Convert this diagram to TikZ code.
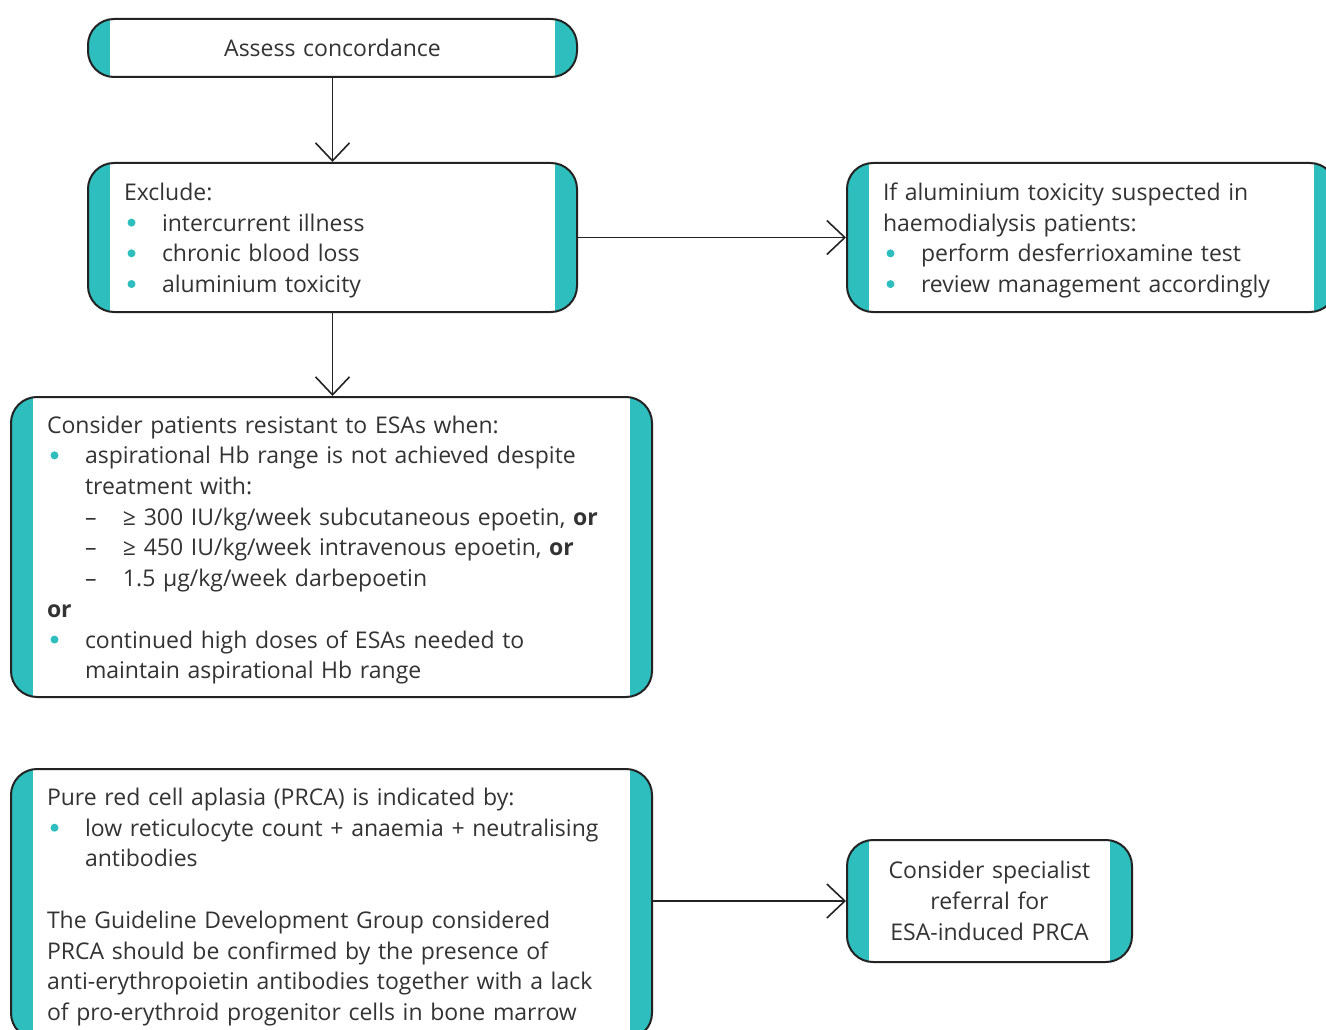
\documentclass[tikz,border=0pt]{standalone}
\usepackage{fontspec}
\setmainfont{Open Sans}
\usetikzlibrary{arrows.meta,positioning}
\definecolor{esateal}{RGB}{46,190,190}
\definecolor{esatext}{RGB}{51,51,51}
\definecolor{esaline}{RGB}{35,35,35}
\newcommand{\bul}{\makebox[38pt][l]{\hspace{3.5pt}\raisebox{4.5pt}{\tikz\fill[esateal] (0,0) circle (4pt);}}}
\newcommand{\ind}{\hspace*{38pt}}
\newcommand{\dsh}{\ind\makebox[38pt][l]{–}}
\begin{document}
\begin{tikzpicture}[x=1pt, y=-1pt,
		box/.style={draw=esaline, line width=2pt, rounded corners=26pt, fill=white,
			text=esatext, font=\fontsize{23}{30.7}\selectfont, align=left,
			inner xsep=36pt, inner ysep=0pt,
			path picture={
				\fill[esateal, sharp corners] (path picture bounding box.north west) rectangle ([xshift=22pt]path picture bounding box.south west);
				\fill[esateal, sharp corners] ([xshift=-22pt]path picture bounding box.north east) rectangle (path picture bounding box.south east);
			}},
		lower/.style={execute at end node={\endgraf\vspace*{-6pt}}},
		arr/.style={draw=esaline, line width=1.6pt, -{Straight Barb[length=18pt, width=34pt]}}
		]
	\path[use as bounding box, clip] (0,0) rectangle (1326,1030);
	\node [box, text width=417pt, minimum height=58pt, align=center] (assess) at (332.5,48) {Assess concordance};
	\node [box, lower, text width=417pt, minimum height=149pt] (exclude) at (332.5,237.5) {Exclude:\\
		\bul intercurrent illness\\
		\bul chronic blood loss\\
		\bul aluminium toxicity};
	\node [box, lower, text width=417pt, minimum height=149pt] (alu) at (1091.5,237.5) {If aluminium toxicity suspected in\\
		haemodialysis patients:\\
		\bul perform desferrioxamine test\\
		\bul review management accordingly};
	\node [box, lower, text width=569pt, minimum height=300pt] (resist) at (331.5,547) {Consider patients resistant to ESAs when:\\
		\bul aspirational Hb range is not achieved despite\\
		\ind treatment with:\\
		\dsh ≥ 300 IU/kg/week subcutaneous epoetin, \textbf{or}\\
		\dsh ≥ 450 IU/kg/week intravenous epoetin, \textbf{or}\\
		\dsh 1.5 µg/kg/week darbepoetin\\
		\textbf{or}\\
		\bul continued high doses of ESAs needed to\\
		\ind maintain aspirational Hb range};
	\node [box, lower, text width=569pt, minimum height=270pt] (prca) at (331.5,904) {Pure red cell aplasia (PRCA) is indicated by:\\
		\bul low reticulocyte count + anaemia + neutralising\\
		\ind antibodies\\[30.7pt]
		The Guideline Development Group considered\\
		PRCA should be confirmed by the presence of\\
		anti-erythropoietin antibodies together with a lack\\
		of pro-erythroid progenitor cells in bone marrow};
	\node [box, text width=225pt, inner xsep=30pt, minimum height=122pt, align=center] (referral) at (989.5,901) {Consider specialist\\
		referral for\\
		ESA-induced PRCA};
	\draw [arr] (assess) -- (exclude);
	\draw [arr] (exclude.south) -- (exclude.south |- resist.north);
	\draw [arr] (exclude) -- (alu);
	\draw [arr] (prca.east |- referral) -- (referral);
\end{tikzpicture}
\end{document}
